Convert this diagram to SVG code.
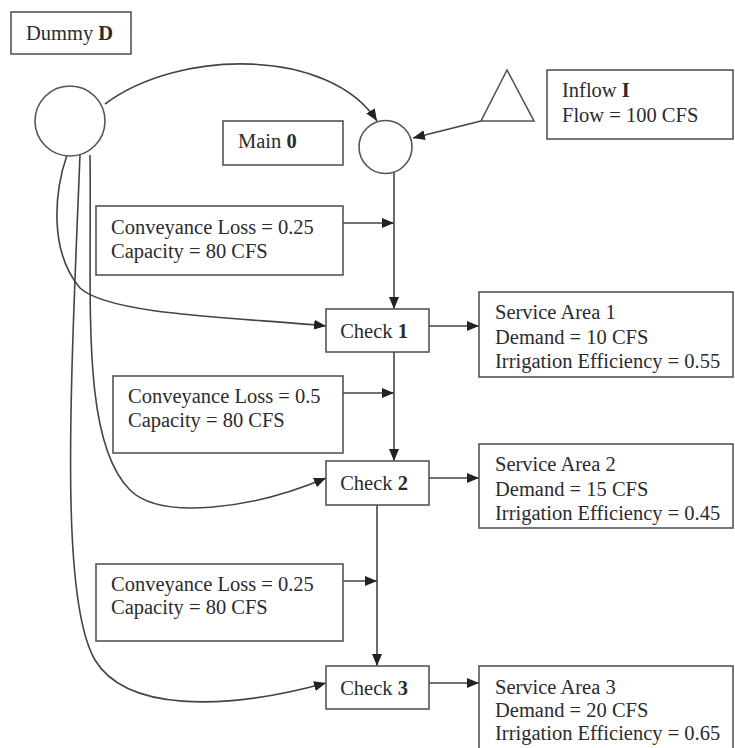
<svg xmlns="http://www.w3.org/2000/svg" width="735" height="748" viewBox="0 0 735 748">
<defs>
<style>
.box{fill:#fff;stroke:#555;stroke-width:1.6}
.shape{fill:#fff;stroke:#555;stroke-width:1.6}
.t{font-family:"Liberation Serif","Times New Roman",serif;font-size:20.5px;fill:#2b2b2b}
.b{font-weight:bold}
.c{fill:none;stroke:#444;stroke-width:1.6}
</style>
<marker id="ah" viewBox="0 0 12 10" refX="12" refY="5" markerWidth="12" markerHeight="10" markerUnits="userSpaceOnUse" orient="auto">
<path d="M0,0 L12,5 L0,10 z" fill="#222"/>
</marker>
</defs>
<rect width="735" height="748" fill="#fff"/>

<g id="connectors">
<path class="c" d="M105,104 C180,48 330,48 377,121" marker-end="url(#ah)"/>
<path class="c" d="M481,121 L413,138" marker-end="url(#ah)"/>
<path class="c" d="M67,155 C55,190 48,250 80,288 C110,316 250,318 326,326" marker-end="url(#ah)"/>
<path class="c" d="M90,155 C92,300 80,440 130,490 C160,520 250,510 326,478" marker-end="url(#ah)"/>
<path class="c" d="M80,155 C70,400 60,600 95,660 C125,710 220,712 326,683" marker-end="url(#ah)"/>
<path class="c" d="M394,172 L394,309" marker-end="url(#ah)"/>
<path class="c" d="M343,223 L394,223" marker-end="url(#ah)"/>
<path class="c" d="M394,352 L394,461" marker-end="url(#ah)"/>
<path class="c" d="M343,393 L394,393" marker-end="url(#ah)"/>
<path class="c" d="M377,505 L377,666" marker-end="url(#ah)"/>
<path class="c" d="M343,581 L377,581" marker-end="url(#ah)"/>
<path class="c" d="M429,326 L479,326" marker-end="url(#ah)"/>
<path class="c" d="M429,478 L479,478" marker-end="url(#ah)"/>
<path class="c" d="M429,683 L479,683" marker-end="url(#ah)"/>
</g>

<g id="dummy-label">
<rect class="box" x="11" y="12" width="120" height="42"/>
<text class="t" x="26" y="40">Dummy <tspan class="b">D</tspan></text>
</g>
<g id="dummy-node">
<circle class="shape" cx="70" cy="121" r="35"/>
</g>
<g id="main-label">
<rect class="box" x="223" y="121" width="120" height="44"/>
<text class="t" x="238" y="148">Main <tspan class="b">0</tspan></text>
</g>
<g id="main-node">
<circle class="shape" cx="385.5" cy="147" r="26.5"/>
</g>
<g id="inflow-node">
<polygon class="shape" points="507,70 481,121 534,121"/>
</g>
<g id="inflow-label">
<rect class="box" x="547" y="70" width="186" height="69"/>
<text class="t" x="562" y="97">Inflow <tspan class="b">I</tspan></text>
<text class="t" x="562" y="122">Flow = 100 CFS</text>
</g>
<g id="reach1">
<rect class="box" x="96" y="206" width="247" height="69"/>
<text class="t" x="111" y="234">Conveyance Loss = 0.25</text>
<text class="t" x="111" y="258">Capacity = 80 CFS</text>
</g>
<g id="check1">
<rect class="box" x="326" y="309" width="103" height="43"/>
<text class="t" x="374" y="338" text-anchor="middle">Check <tspan class="b">1</tspan></text>
</g>
<g id="service1">
<rect class="box" x="479" y="292" width="254" height="85"/>
<text class="t" x="495" y="319">Service Area 1</text>
<text class="t" x="495" y="344">Demand = 10 CFS</text>
<text class="t" x="495" y="368">Irrigation Efficiency = 0.55</text>
</g>
<g id="reach2">
<rect class="box" x="113" y="376" width="230" height="77"/>
<text class="t" x="128" y="403">Conveyance Loss = 0.5</text>
<text class="t" x="128" y="427">Capacity = 80 CFS</text>
</g>
<g id="check2">
<rect class="box" x="326" y="461" width="103" height="44"/>
<text class="t" x="374" y="490" text-anchor="middle">Check <tspan class="b">2</tspan></text>
</g>
<g id="service2">
<rect class="box" x="479" y="444" width="254" height="84"/>
<text class="t" x="495" y="471">Service Area 2</text>
<text class="t" x="495" y="496">Demand = 15 CFS</text>
<text class="t" x="495" y="520">Irrigation Efficiency = 0.45</text>
</g>
<g id="reach3">
<rect class="box" x="96" y="564" width="247" height="77"/>
<text class="t" x="111" y="591">Conveyance Loss = 0.25</text>
<text class="t" x="111" y="614">Capacity = 80 CFS</text>
</g>
<g id="check3">
<rect class="box" x="326" y="666" width="103" height="43"/>
<text class="t" x="374" y="695" text-anchor="middle">Check <tspan class="b">3</tspan></text>
</g>
<g id="service3">
<rect class="box" x="479" y="666" width="254" height="100"/>
<text class="t" x="495" y="694">Service Area 3</text>
<text class="t" x="495" y="717">Demand = 20 CFS</text>
<text class="t" x="495" y="740">Irrigation Efficiency = 0.65</text>
</g>
</svg>
